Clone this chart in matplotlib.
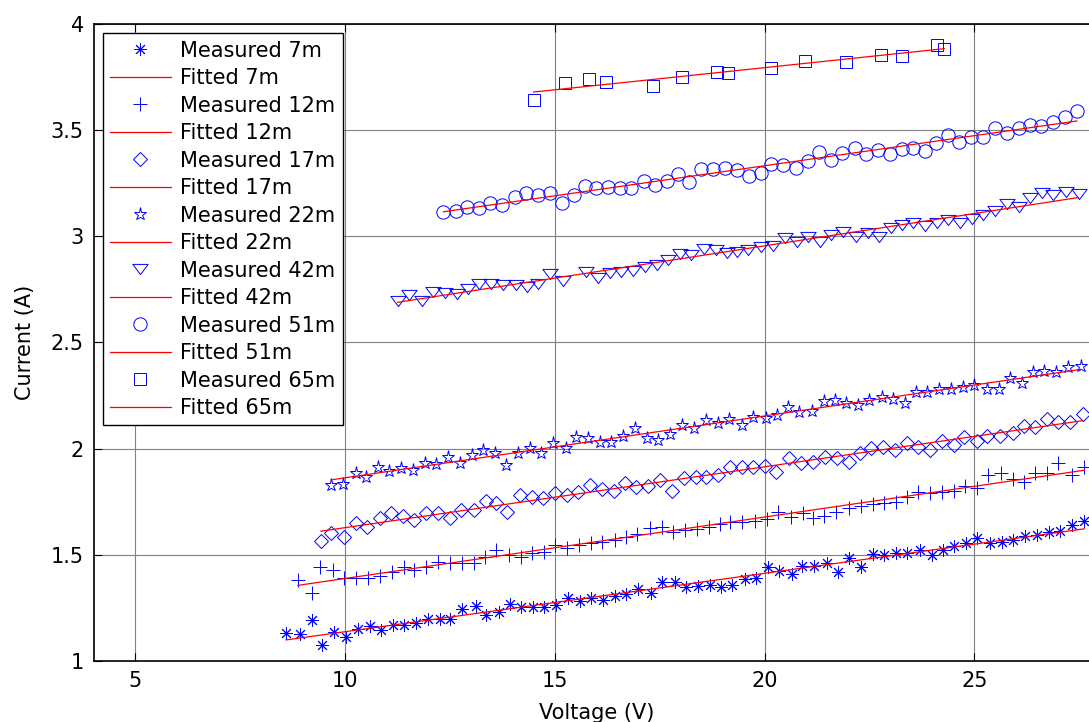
import numpy as np
import matplotlib.pyplot as plt
from matplotlib.path import Path

# ============================== DATA ==============================
# Measured current vs voltage for each distance (V, A)

v_7m = [8.59, 8.91, 9.20, 9.45, 9.74, 10.02, 10.30, 10.58, 10.85, 11.13, 11.41, 11.69,
        11.97, 12.25, 12.49, 12.79, 13.11, 13.35, 13.66, 13.92, 14.20, 14.48, 14.75, 15.03,
        15.31, 15.59, 15.87, 16.15, 16.42, 16.70, 16.98, 17.28, 17.56, 17.86, 18.12, 18.40,
        18.69, 18.95, 19.23, 19.53, 19.80, 20.08, 20.35, 20.66, 20.90, 21.17, 21.48, 21.75,
        22.02, 22.29, 22.57, 22.84, 23.13, 23.40, 23.69, 23.98, 24.26, 24.51, 24.80, 25.07,
        25.37, 25.65, 25.93, 26.21, 26.49, 26.77, 27.05, 27.32, 27.62]
i_7m = [1.130, 1.127, 1.193, 1.073, 1.138, 1.114, 1.149, 1.164, 1.146, 1.169, 1.169, 1.177,
        1.200, 1.200, 1.196, 1.243, 1.259, 1.216, 1.232, 1.268, 1.255, 1.255, 1.255, 1.263,
        1.295, 1.284, 1.295, 1.287, 1.306, 1.315, 1.337, 1.318, 1.373, 1.370, 1.350, 1.352,
        1.357, 1.350, 1.357, 1.384, 1.389, 1.441, 1.425, 1.412, 1.447, 1.447, 1.463, 1.420,
        1.483, 1.444, 1.504, 1.499, 1.507, 1.507, 1.522, 1.499, 1.522, 1.543, 1.554, 1.577,
        1.554, 1.561, 1.570, 1.588, 1.593, 1.609, 1.613, 1.640, 1.659]

v_12m = [8.87, 9.20, 9.40, 9.70, 9.98, 10.26, 10.54, 10.82, 11.12, 11.39, 11.65, 11.93,
         12.21, 12.49, 12.79, 13.08, 13.32, 13.60, 13.90, 14.20, 14.46, 14.75, 15.01, 15.29,
         15.57, 15.85, 16.13, 16.42, 16.70, 16.96, 17.26, 17.55, 17.82, 18.09, 18.39, 18.66,
         18.93, 19.18, 19.46, 19.76, 20.06, 20.32, 20.62, 20.92, 21.16, 21.41, 21.71, 22.02,
         22.30, 22.57, 22.84, 23.13, 23.40, 23.66, 23.94, 24.22, 24.50, 24.78, 25.06, 25.33,
         25.63, 25.91, 26.19, 26.45, 26.73, 27.00, 27.32, 27.62]
i_12m = [1.381, 1.318, 1.444, 1.428, 1.389, 1.389, 1.389, 1.400, 1.420, 1.444, 1.428, 1.441,
         1.467, 1.460, 1.460, 1.460, 1.491, 1.522, 1.499, 1.491, 1.507, 1.514, 1.546, 1.530,
         1.546, 1.554, 1.561, 1.569, 1.585, 1.598, 1.625, 1.632, 1.609, 1.617, 1.621, 1.632,
         1.643, 1.656, 1.656, 1.661, 1.670, 1.703, 1.680, 1.698, 1.672, 1.683, 1.703, 1.719,
         1.730, 1.738, 1.742, 1.750, 1.773, 1.797, 1.789, 1.794, 1.802, 1.824, 1.813, 1.876,
         1.887, 1.855, 1.844, 1.884, 1.887, 1.934, 1.876, 1.915]

v_17m = [9.42, 9.66, 9.98, 10.26, 10.51, 10.82, 11.09, 11.37, 11.65, 11.93, 12.21, 12.49,
         12.76, 13.06, 13.35, 13.60, 13.85, 14.16, 14.46, 14.71, 14.99, 15.29, 15.55, 15.83,
         16.11, 16.40, 16.66, 16.94, 17.22, 17.51, 17.80, 18.07, 18.36, 18.61, 18.89, 19.17,
         19.45, 19.73, 20.00, 20.28, 20.58, 20.86, 21.16, 21.44, 21.73, 22.02, 22.27, 22.53,
         22.81, 23.11, 23.40, 23.66, 23.93, 24.22, 24.50, 24.75, 25.05, 25.31, 25.61, 25.91,
         26.17, 26.45, 26.73, 27.00, 27.28, 27.58]
i_17m = [1.566, 1.604, 1.585, 1.651, 1.632, 1.672, 1.695, 1.683, 1.664, 1.695, 1.698, 1.674,
         1.711, 1.711, 1.755, 1.745, 1.703, 1.781, 1.770, 1.766, 1.789, 1.781, 1.797, 1.828,
         1.808, 1.802, 1.837, 1.818, 1.824, 1.852, 1.802, 1.860, 1.868, 1.868, 1.876, 1.912,
         1.915, 1.915, 1.920, 1.891, 1.954, 1.934, 1.938, 1.962, 1.954, 1.938, 1.978, 2.001,
         2.009, 1.993, 2.025, 2.006, 1.993, 2.037, 2.017, 2.053, 2.037, 2.059, 2.059, 2.072,
         2.106, 2.103, 2.138, 2.127, 2.127, 2.163]

v_22m = [9.66, 9.94, 10.26, 10.50, 10.78, 11.05, 11.33, 11.61, 11.89, 12.17, 12.45, 12.74,
         13.03, 13.28, 13.56, 13.84, 14.12, 14.40, 14.67, 14.95, 15.26, 15.51, 15.79, 16.07,
         16.34, 16.62, 16.90, 17.20, 17.46, 17.74, 18.02, 18.31, 18.61, 18.89, 19.15, 19.45,
         19.73, 20.02, 20.30, 20.56, 20.82, 21.12, 21.41, 21.68, 21.94, 22.23, 22.49, 22.79,
         23.05, 23.35, 23.61, 23.88, 24.16, 24.43, 24.72, 24.99, 25.31, 25.58, 25.85, 26.13,
         26.39, 26.66, 26.95, 27.22, 27.53]
i_22m = [1.829, 1.833, 1.883, 1.868, 1.912, 1.896, 1.907, 1.899, 1.931, 1.927, 1.960, 1.931,
         1.970, 1.993, 1.978, 1.923, 1.978, 2.001, 1.978, 2.025, 2.001, 2.053, 2.049, 2.033,
         2.033, 2.059, 2.096, 2.049, 2.041, 2.069, 2.111, 2.096, 2.135, 2.119, 2.138, 2.111,
         2.147, 2.143, 2.158, 2.195, 2.174, 2.179, 2.226, 2.229, 2.213, 2.205, 2.229, 2.242,
         2.232, 2.216, 2.268, 2.268, 2.279, 2.279, 2.289, 2.300, 2.279, 2.279, 2.331, 2.310,
         2.362, 2.367, 2.362, 2.386, 2.390]

v_42m = [11.25, 11.53, 11.83, 12.09, 12.37, 12.66, 12.92, 13.20, 13.48, 13.76, 14.06, 14.33,
         14.59, 14.87, 15.19, 15.75, 16.03, 16.31, 16.58, 16.86, 17.14, 17.42, 17.70, 17.98,
         18.25, 18.55, 18.84, 19.09, 19.33, 19.61, 19.91, 20.20, 20.48, 20.76, 21.04, 21.32,
         21.59, 21.87, 22.17, 22.45, 22.73, 23.01, 23.27, 23.54, 23.82, 24.10, 24.38, 24.66,
         24.94, 25.21, 25.49, 25.77, 26.05, 26.33, 26.61, 26.88, 27.18, 27.48]
i_42m = [2.697, 2.724, 2.697, 2.739, 2.734, 2.728, 2.750, 2.775, 2.775, 2.771, 2.771, 2.760,
         2.775, 2.822, 2.791, 2.833, 2.802, 2.829, 2.833, 2.838, 2.854, 2.865, 2.888, 2.917,
         2.912, 2.939, 2.935, 2.923, 2.928, 2.935, 2.951, 2.954, 2.991, 2.975, 2.995, 2.975,
         3.006, 3.022, 2.998, 3.017, 2.995, 3.038, 3.053, 3.061, 3.048, 3.064, 3.077, 3.064,
         3.080, 3.100, 3.119, 3.152, 3.137, 3.179, 3.203, 3.195, 3.210, 3.199]

v_51m = [12.34, 12.63, 12.90, 13.20, 13.46, 13.74, 14.04, 14.31, 14.59, 14.87, 15.17, 15.45,
         15.71, 15.97, 16.26, 16.54, 16.82, 17.12, 17.38, 17.66, 17.94, 18.20, 18.47, 18.77,
         19.05, 19.33, 19.62, 19.91, 20.16, 20.44, 20.74, 21.02, 21.29, 21.58, 21.85, 22.14,
         22.41, 22.69, 22.99, 23.27, 23.54, 23.82, 24.08, 24.36, 24.64, 24.92, 25.21, 25.48,
         25.77, 26.05, 26.33, 26.59, 26.86, 27.15, 27.44]
i_51m = [3.116, 3.121, 3.140, 3.132, 3.159, 3.147, 3.184, 3.205, 3.195, 3.202, 3.155, 3.195,
         3.237, 3.226, 3.231, 3.226, 3.226, 3.262, 3.242, 3.262, 3.293, 3.257, 3.316, 3.316,
         3.320, 3.312, 3.284, 3.297, 3.341, 3.336, 3.320, 3.356, 3.398, 3.359, 3.391, 3.414,
         3.388, 3.407, 3.388, 3.410, 3.414, 3.403, 3.441, 3.477, 3.446, 3.466, 3.469, 3.509,
         3.485, 3.509, 3.524, 3.520, 3.540, 3.563, 3.592]

v_65m = [14.49, 15.25, 15.80, 16.21, 17.34, 18.03, 18.87, 19.13, 20.15, 20.95, 21.93, 22.77,
         23.27, 24.10, 24.28]
i_65m = [3.642, 3.724, 3.739, 3.728, 3.708, 3.749, 3.775, 3.771, 3.791, 3.827, 3.822, 3.854,
         3.849, 3.901, 3.881]

distances = ['7m', '12m', '17m', '22m', '42m', '51m', '65m']
voltages = [v_7m, v_12m, v_17m, v_22m, v_42m, v_51m, v_65m]
currents = [i_7m, i_12m, i_17m, i_22m, i_42m, i_51m, i_65m]

# ============================== PLOT STUFF =============================

plt.rcParams['font.family'] = 'DejaVu Sans'
plt.rcParams['font.size'] = 15

# MATLAB-like markers (flat down triangle, 8-arm asterisk)
tri_down = Path([(-0.75, 0.5), (0.75, 0.5), (0.0, -0.5), (-0.75, 0.5)],
                [Path.MOVETO, Path.LINETO, Path.LINETO, Path.CLOSEPOLY])
markers = [(8, 2, 0), '+', 'D', '*', tri_down, 'o', 's']
msizes = [9.0, 10.0, 6.8, 9.6, 11.0, 9.6, 9.0]

blue = (0, 0, 1)
red = (1, 0, 0)

fig = plt.figure(figsize=(10.89, 7.22), dpi=100)
ax = fig.add_axes([0.0859, 0.0845, 0.9245, 0.8823])

for d, v, c, m, ms in zip(distances, voltages, currents, markers, msizes):
    v = np.array(v)
    c = np.array(c)
    ax.plot(v, c, linestyle='none', marker=m, markersize=ms, markerfacecolor='none',
            markeredgecolor=blue, markeredgewidth=0.7, label='Measured ' + d)
    # linear least-squares fit
    p = np.polyfit(v, c, 1)
    ax.plot(v, np.polyval(p, v), color=red, linewidth=0.9, label='Fitted ' + d)

ax.set_xlim(4, 28)
ax.set_ylim(1, 4)
ax.set_xticks([5, 10, 15, 20, 25])
ax.set_yticks([1, 1.5, 2, 2.5, 3, 3.5, 4])
ax.set_yticklabels(['1', '1.5', '2', '2.5', '3', '3.5', '4'])
ax.grid(True, color='0.5', linewidth=0.8)
ax.set_axisbelow(True)
ax.tick_params(direction='in', length=6, width=0.8, top=True, right=True, pad=7)
for s in ax.spines.values():
    s.set_linewidth(1.2)

ax.set_xlabel('Voltage (V)', labelpad=9)
ax.set_ylabel('Current (A)', labelpad=11)

leg = ax.legend(loc='upper left', borderaxespad=0.45, handlelength=2.9,
                handletextpad=0.45, borderpad=0.35, labelspacing=0.36,
                fancybox=False, framealpha=1, edgecolor='black')
leg.get_frame().set_linewidth(1.0)

plt.savefig('out.png', dpi=100)
